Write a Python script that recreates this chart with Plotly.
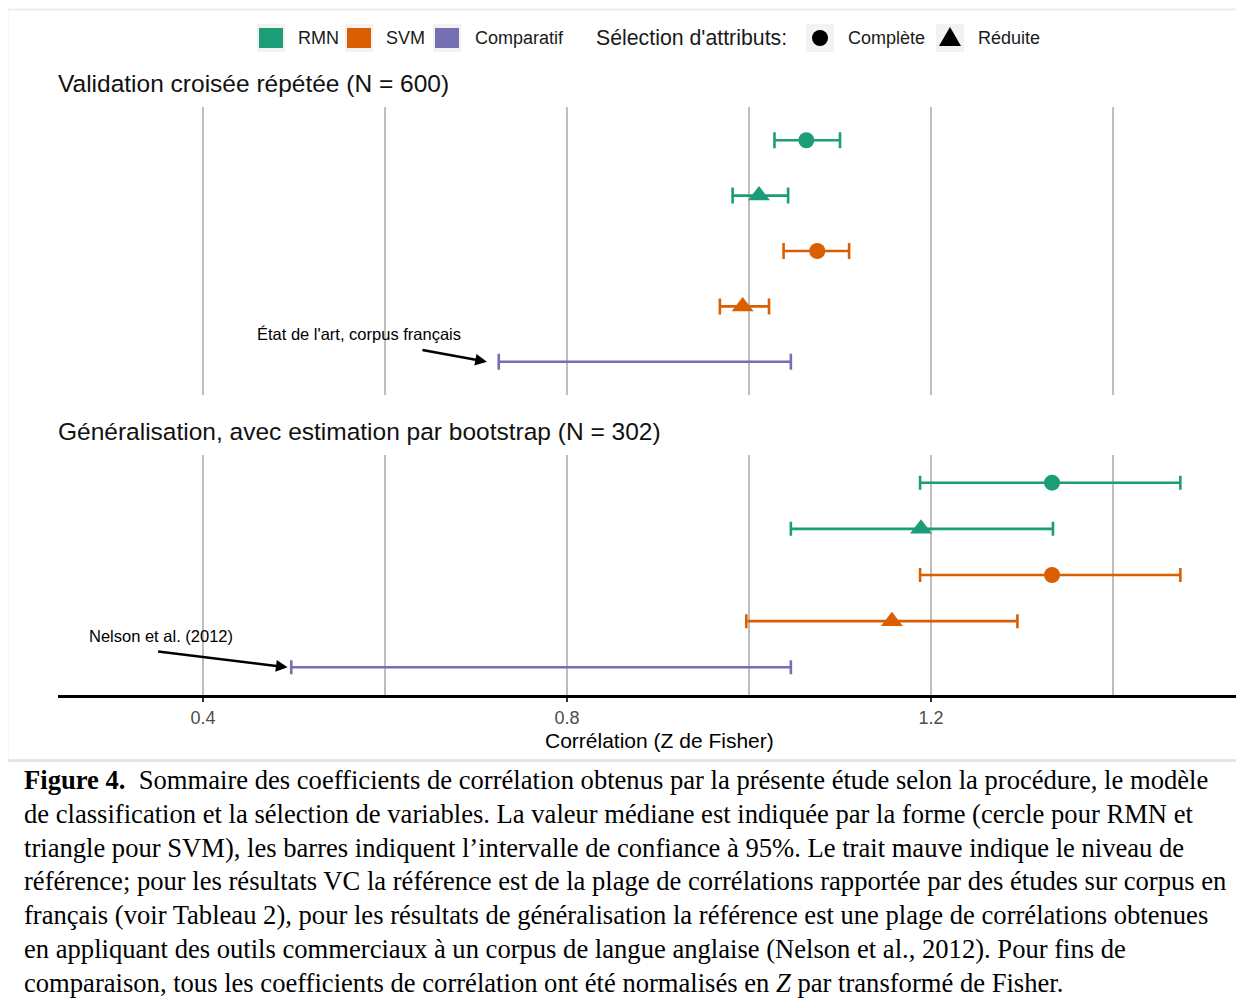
import plotly.graph_objects as go

# ---------------- data ----------------
ROWS = ["RMN · Complète", "RMN · Réduite", "SVM · Complète", "SVM · Réduite", "Comparatif"]
ROW_MODEL = ["RMN", "RMN", "SVM", "SVM", "Comparatif"]
ROW_SEL = ["Complète", "Réduite", "Complète", "Réduite", None]

# Validation croisée répétée (N = 600)
CV_MED = [1.063, 1.011, 1.075, 0.993, None]
CV_LO = [1.028, 0.982, 1.038, 0.968, 0.725]
CV_HI = [1.100, 1.043, 1.110, 1.022, 1.046]

# Généralisation, bootstrap (N = 302)
GEN_MED = [1.333, 1.189, 1.333, 1.157, None]
GEN_LO = [1.188, 1.046, 1.188, 0.997, 0.497]
GEN_HI = [1.474, 1.334, 1.474, 1.295, 1.046]

TICK_VALS = [0.4, 0.8, 1.2]
TICK_TEXT = ["0.4", "0.8", "1.2"]
MINOR_GRID = [0.6, 1.0, 1.4]

PANEL_TITLES = ["Validation croisée répétée (N = 600)",
                "Généralisation, avec estimation par bootstrap (N = 302)"]
REF_LABELS = ["État de l'art, corpus français", "Nelson et al. (2012)"]
X_TITLE = "Corrélation (Z de Fisher)"

CAPTION = [
    "<b>Figure 4.</b>&nbsp; Sommaire des coefficients de corrélation obtenus par la présente étude selon la procédure, le modèle",
    "de classification et la sélection de variables. La valeur médiane est indiquée par la forme (cercle pour RMN et",
    "triangle pour SVM), les barres indiquent l’intervalle de confiance à 95%. Le trait mauve indique le niveau de",
    "référence; pour les résultats VC la référence est de la plage de corrélations rapportée par des études sur corpus en",
    "français (voir Tableau 2), pour les résultats de généralisation la référence est une plage de corrélations obtenues",
    "en appliquant des outils commerciaux à un corpus de langue anglaise (Nelson et al., 2012). Pour fins de",
    "comparaison, tous les coefficients de corrélation ont été normalisés en <i>Z</i> par transformé de Fisher.",
]

COLORS = {"RMN": "#1B9E77", "SVM": "#D95F02", "Comparatif": "#7570B3"}
SYMBOLS = {"Complète": "circle", "Réduite": "triangle-up"}
SIZES = {"Complète": 16, "Réduite": 19}

# ---------------- layout helpers ----------------
# page body has an 8px margin: figure is placed at (8, 8) in the window
OFF = 8
PAGE_W, PAGE_H = 1244, 1008
W, H = PAGE_W - OFF, PAGE_H - OFF
def PX(p):
    return (p - OFF) / W
def PY(p):
    return 1 - (p - OFF) / H

SANS = "Liberation Sans, Arial, sans-serif"
SERIF = "Liberation Serif, Times New Roman, serif"
GRID = "#BEBEBE"

# x scale: 0.4 at page px 203, 0.2 per 182 px
X0_PX, X_SCALE = 203, 910.0
x_lo = 0.4 - (X0_PX - 58) / X_SCALE
x_hi = 0.4 + (PAGE_W - X0_PX) / X_SCALE

fig = go.Figure()

panels = [
    (CV_MED, CV_LO, CV_HI, "x", "y", 8),
    (GEN_MED, GEN_LO, GEN_HI, "x2", "y2", 7),
]
for med, lo, hi, xa, ya, capw in panels:
    for i, row in enumerate(ROWS):
        model = ROW_MODEL[i]
        sel = ROW_SEL[i]
        col = COLORS[model]
        if med[i] is None:
            c = (lo[i] + hi[i]) / 2
            fig.add_trace(go.Scatter(
                x=[c], y=[row], mode="markers",
                marker=dict(size=1, color="rgba(0,0,0,0)"),
                error_x=dict(type="data", symmetric=True, array=[hi[i] - c],
                             color=col, thickness=2.6, width=capw),
                xaxis=xa, yaxis=ya, showlegend=False, hoverinfo="skip"))
        else:
            fig.add_trace(go.Scatter(
                x=[med[i]], y=[row], mode="markers",
                marker=dict(size=SIZES[sel], color=col, symbol=SYMBOLS[sel],
                            line=dict(width=0)),
                error_x=dict(type="data", symmetric=False,
                             array=[hi[i] - med[i]], arrayminus=[med[i] - lo[i]],
                             color=col, thickness=2.6, width=capw),
                xaxis=xa, yaxis=ya, showlegend=False, name=row))

common_x = dict(range=[x_lo, x_hi], domain=[PX(58), 1.0], tickvals=TICK_VALS,
                ticktext=TICK_TEXT, showgrid=True, gridcolor=GRID, gridwidth=2.4,
                zeroline=False,
                minor=dict(tickvals=MINOR_GRID, showgrid=True, gridcolor=GRID,
                           gridwidth=2.4, ticks=""))
fig.update_layout(
    xaxis=dict(**common_x, anchor="y", showticklabels=False, ticks="", showline=False),
    xaxis2=dict(**common_x, anchor="y2", showticklabels=True, ticks="outside",
                ticklen=4, tickwidth=2, tickcolor="#333333", showline=True,
                linecolor="black", linewidth=3,
                tickfont=dict(family=SANS, size=18, color="#4D4D4D")),
    yaxis=dict(domain=[PY(395), PY(107)], type="category", categoryorder="array",
               categoryarray=ROWS, range=[4.6, -0.6], showticklabels=False,
               showgrid=False, zeroline=False, ticks=""),
    yaxis2=dict(domain=[PY(695), PY(455)], type="category", categoryorder="array",
                categoryarray=ROWS, range=[4.6, -0.6], showticklabels=False,
                showgrid=False, zeroline=False, ticks=""),
)

shapes = []
annos = []

# outer frame of the chart image
shapes.append(dict(type="rect", xref="paper", yref="paper", x0=PX(7.5), x1=PX(1260),
                   y0=PY(760), y1=PY(9.5), line=dict(color="#EDEDED", width=2),
                   fillcolor="rgba(0,0,0,0)", layer="below"))
shapes.append(dict(type="line", xref="paper", yref="paper", x0=PX(7.5), x1=1.0,
                   y0=PY(760.5), y1=PY(760.5), line=dict(color="#E6E6E6", width=3)))

# panel titles
for t, py in zip(PANEL_TITLES, [84, 432]):
    annos.append(dict(text=t, xref="paper", yref="paper", x=PX(56), y=PY(py),
                      xanchor="left", yanchor="middle", showarrow=False,
                      font=dict(family=SANS, size=24.5, color="#111111")))

# reference annotations with arrows
for (lo, xa, ya, txt, tx, ty, ax, ay, dx) in [
        (CV_LO, "x", "y", REF_LABELS[0], 255, 334, -66, -12, 0.013),
        (GEN_LO, "x2", "y2", REF_LABELS[1], 87, 636, -131, -16, 0.004)]:
    annos.append(dict(x=lo[4] - dx, y=4,
                      xref=xa, yref=ya, ax=ax, ay=ay, text="", showarrow=True,
                      arrowhead=2, arrowsize=0.9, arrowwidth=2.6, arrowcolor="black",
                      standoff=0))
    annos.append(dict(text=txt, xref="paper", yref="paper", x=PX(tx), y=PY(ty),
                      xanchor="left", yanchor="middle", showarrow=False,
                      font=dict(family=SANS, size=16.5, color="black")))

# x axis title
annos.append(dict(text=X_TITLE, xref="paper", yref="paper", x=PX(659), y=PY(740),
                  xanchor="center", yanchor="middle", showarrow=False,
                  font=dict(family=SANS, size=21, color="black")))

# ---- legend (manual) ----
LEG_Y = 38
for name, cx, tx in [("RMN", 271, 296), ("SVM", 359, 384), ("Comparatif", 447, 473)]:
    shapes.append(dict(type="rect", xref="paper", yref="paper", x0=PX(cx - 14), x1=PX(cx + 14),
                       y0=PY(LEG_Y + 14), y1=PY(LEG_Y - 14), fillcolor="#F2F2F2",
                       line=dict(width=0)))
    shapes.append(dict(type="rect", xref="paper", yref="paper", x0=PX(cx - 12), x1=PX(cx + 12),
                       y0=PY(LEG_Y + 10), y1=PY(LEG_Y - 10), fillcolor=COLORS[name],
                       line=dict(width=0)))
    annos.append(dict(text=name, xref="paper", yref="paper", x=PX(tx), y=PY(LEG_Y),
                      xanchor="left", yanchor="middle", showarrow=False,
                      font=dict(family=SANS, size=18, color="#1A1A1A")))
annos.append(dict(text="Sélection d'attributs:", xref="paper", yref="paper", x=PX(594),
                  y=PY(LEG_Y), xanchor="left", yanchor="middle", showarrow=False,
                  font=dict(family=SANS, size=21.3, color="#1A1A1A")))
for sel, cx, tx in [("Complète", 820, 846), ("Réduite", 950, 976)]:
    shapes.append(dict(type="rect", xref="paper", yref="paper", x0=PX(cx - 14), x1=PX(cx + 14),
                       y0=PY(LEG_Y + 14), y1=PY(LEG_Y - 14), fillcolor="#F2F2F2",
                       line=dict(width=0)))
    if sel == "Complète":
        shapes.append(dict(type="circle", xref="paper", yref="paper", x0=PX(cx - 8),
                           x1=PX(cx + 8), y0=PY(LEG_Y + 8), y1=PY(LEG_Y - 8),
                           fillcolor="black", line=dict(width=0)))
    else:
        path = "M {:.5f} {:.5f} L {:.5f} {:.5f} L {:.5f} {:.5f} Z".format(
            PX(cx - 11), PY(LEG_Y + 8), PX(cx + 11), PY(LEG_Y + 8), PX(cx), PY(LEG_Y - 11))
        shapes.append(dict(type="path", xref="paper", yref="paper", path=path,
                           fillcolor="black", line=dict(width=0)))
    annos.append(dict(text=sel, xref="paper", yref="paper", x=PX(tx), y=PY(LEG_Y),
                      xanchor="left", yanchor="middle", showarrow=False,
                      font=dict(family=SANS, size=18, color="#1A1A1A")))

# caption
for k, line in enumerate(CAPTION):
    annos.append(dict(text=line, xref="paper", yref="paper", x=PX(22), y=PY(780 + 33.8 * k),
                      xanchor="left", yanchor="middle", showarrow=False,
                      font=dict(family=SERIF, size=26.6, color="black")))

fig.update_layout(
    width=W, height=H, margin=dict(l=0, r=0, t=0, b=0),
    paper_bgcolor="white", plot_bgcolor="white",
    showlegend=False, shapes=shapes, annotations=annos,
    font=dict(family=SANS),
)

fig.write_html("out.html")
